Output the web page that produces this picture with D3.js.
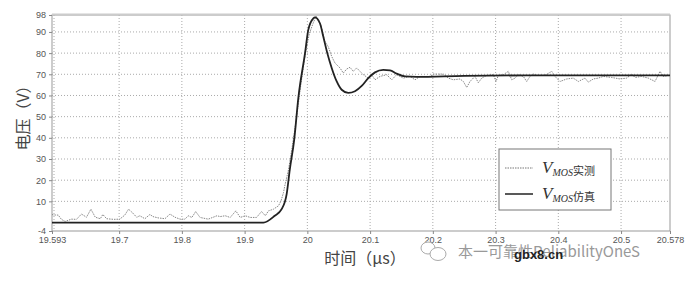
<!DOCTYPE html>
<html>
<head>
<meta charset="utf-8">
<script src="https://cdn.jsdelivr.net/npm/d3@7"></script>
<style>
  body { margin: 0; background: #fff; }
  .tick text { font: 9px "Liberation Sans", sans-serif; fill: #555; }
  .grid line { stroke: #aaa; stroke-dasharray: 1,2; }
</style>
</head>
<body>
<svg id="chart" width="692" height="281"></svg>
<script>
// simulated V_MOS (µs, V)
var simT = [19.593, 19.93, 19.948, 19.959, 19.967, 19.972, 19.979, 19.9856, 19.9963, 20.0015, 20.0095, 20.0122,
  20.0202, 20.0254, 20.0318, 20.0388, 20.0468, 20.0547, 20.0652, 20.0759, 20.0866, 20.0971, 20.1078, 20.121,
  20.1317, 20.1424, 20.1556, 20.1743, 20.25, 20.35, 20.578];
var simV = [0, 0, 3.2, 6.3, 13.4, 25, 39, 58.8, 80, 91, 96.4, 96.9,
  94, 87.8, 80, 73, 66.6, 62.7, 61.2, 62, 64.5, 68.2, 70.9, 72.1,
  71.9, 70.3, 69, 68.8, 69.3, 69.5, 69.5];

// measured V_MOS
var measT = [19.593, 19.595, 19.603, 19.608, 19.614, 19.624, 19.632, 19.640, 19.648, 19.655, 19.662, 19.670, 19.674,
  19.680, 19.691, 19.701, 19.709, 19.715, 19.720, 19.728, 19.733, 19.741, 19.749, 19.754, 19.762, 19.773, 19.781,
  19.789, 19.797, 19.805, 19.810, 19.816, 19.822, 19.829, 19.842, 19.856, 19.861, 19.869, 19.877, 19.886, 19.893,
  19.901, 19.909, 19.919, 19.927, 19.933, 19.938, 19.946, 19.954, 19.958, 19.962, 19.964, 19.970, 19.976, 19.983,
  19.990, 19.997, 20.003, 20.009, 20.014, 20.0217, 20.0281, 20.0334, 20.0388, 20.0441, 20.052, 20.0573, 20.0627,
  20.068, 20.0732, 20.0786, 20.0839, 20.0892, 20.0971, 20.1025, 20.1078, 20.1158, 20.1265, 20.1344, 20.1424,
  20.1529, 20.1636, 20.1716, 20.1795, 20.1955, 20.2008, 20.2167, 20.2247, 20.2326, 20.2433, 20.2486, 20.254,
  20.2592, 20.2672, 20.2725, 20.2779, 20.2858, 20.2964, 20.3007, 20.3044, 20.3123, 20.3203, 20.3257, 20.331,
  20.3362, 20.3442, 20.3496, 20.3549, 20.3601, 20.3655, 20.3788, 20.3895, 20.3947, 20.4027, 20.4134, 20.4239,
  20.4319, 20.4425, 20.4478, 20.4558, 20.4637, 20.4717, 20.4851, 20.4983, 20.509, 20.517, 20.5222, 20.5329,
  20.5434, 20.5541, 20.5621, 20.5673, 20.578];
var measV = [3.8, 3.6, 3.5, 1.5, 0.5, 1.6, 1.5, 4, 2.5, 6.3, 2.5, 1.8, 3.8,
  1.8, 1.5, 1.6, 3.5, 6.3, 5, 2.5, 3.2, 1.8, 3.8, 2.8, 2.2, 1.8, 4,
  2.5, 1.6, 1.6, 3.2, 2.4, 5.2, 2.4, 1.6, 3.2, 2.8, 3.2, 2.4, 5.5, 2.4,
  3.2, 2.4, 2.4, 5.2, 3.2, 5.5, 6.3, 7.9, 10.2, 14.2, 17.3, 25, 36, 50,
  66, 80, 89, 94, 97.5, 93, 85.5, 83, 78.4, 75.3, 73, 70.6, 72.5,
  73.3, 71.4, 73, 71.4, 69.8, 68.2, 69.8, 67.4, 69, 69.8, 67.4, 69.8,
  68.2, 69, 67.4, 69, 69, 70.1, 70.1, 68.2, 67.4, 67.8, 66.6, 63.8,
  66.6, 69, 66, 68.2, 69.5, 69.8, 66.6, 69.5, 69.8, 71.4, 67.4, 68.2,
  69.8, 69, 66.6, 69, 70.1, 69.5, 69.5, 71.4, 69, 66.6, 67.8, 68.2,
  66.6, 68.2, 66.3, 67.8, 68.2, 69, 68.5, 67.8, 68.2, 70.1, 68.5, 69,
  68.2, 66.6, 71.4, 69, 69.5];

var xTicks = [19.593, 19.7, 19.8, 19.9, 20, 20.1, 20.2, 20.3, 20.4, 20.5, 20.578];
var yTicks = [-4, 10, 20, 30, 40, 50, 60, 70, 80, 90, 98];

var svg = d3.select("#chart");
var x = d3.scaleLinear().domain([19.593, 20.578]).range([52, 670]);
var y = d3.scaleLinear().domain([-4, 98]).range([231, 15]);

// grid
svg.append("g").attr("class", "grid")
  .selectAll("line").data(xTicks.slice(1, -1)).enter().append("line")
  .attr("x1", function(d) { return x(d); }).attr("x2", function(d) { return x(d); })
  .attr("y1", 15).attr("y2", 231);
svg.append("g").attr("class", "grid")
  .selectAll("line").data(yTicks.slice(1, -1)).enter().append("line")
  .attr("y1", function(d) { return y(d); }).attr("y2", function(d) { return y(d); })
  .attr("x1", 52).attr("x2", 670);
svg.append("line").attr("x1", 54).attr("x2", 54).attr("y1", 15).attr("y2", 231)
  .attr("stroke", "#aaa").attr("stroke-dasharray", "1,2");

// frame
svg.append("rect").attr("x", 52).attr("y", 15).attr("width", 618).attr("height", 216)
  .attr("fill", "none").attr("stroke", "#999").attr("stroke-width", 1);
svg.append("line").attr("x1", 52).attr("x2", 670).attr("y1", 14.5).attr("y2", 14.5)
  .attr("stroke", "#ccc").attr("stroke-width", 2);

// axes
var xAxis = d3.axisBottom(x).tickValues(xTicks).tickSize(3).tickFormat(function(d) { return String(d); });
var yAxis = d3.axisLeft(y).tickValues(yTicks).tickSize(3).tickFormat(function(d) { return String(d); });
svg.append("g").attr("transform", "translate(0,231)").call(xAxis)
  .call(function(g) { g.select(".domain").remove(); g.selectAll("line").attr("stroke", "#888"); });
svg.append("g").attr("transform", "translate(52,0)").call(yAxis)
  .call(function(g) { g.select(".domain").remove(); g.selectAll("line").attr("stroke", "#888"); });

// lines
var meas = measT.map(function(t, i) { return [t, measV[i]]; });
var sim = simT.map(function(t, i) { return [t, simV[i]]; });
var line = d3.line().x(function(d) { return x(d[0]); }).y(function(d) { return y(d[1]); });

svg.append("path").datum(meas).attr("d", line)
  .attr("fill", "none").attr("stroke", "#888").attr("stroke-width", 1).attr("stroke-dasharray", "1.5,1");
svg.append("path").datum(sim).attr("d", line.curve(d3.curveMonotoneX))
  .attr("fill", "none").attr("stroke", "#222").attr("stroke-width", 1.8);

// axis titles
svg.append("text").attr("transform", "translate(22,114) rotate(-90)")
  .attr("text-anchor", "middle").attr("dominant-baseline", "central")
  .style("font", "16px 'Noto Sans CJK SC', sans-serif").attr("fill", "#444")
  .text("电压（V）");
svg.append("text").attr("x", 365).attr("y", 264).attr("text-anchor", "middle")
  .style("font", "16px 'Noto Sans CJK SC', sans-serif").attr("fill", "#444")
  .text("时间（μs）");

// legend
var lg = svg.append("g");
lg.append("rect").attr("x", 499).attr("y", 149).attr("width", 112).attr("height", 61)
  .attr("fill", "#fff").attr("stroke", "#777");
var rows = [{y: 168, dash: "1.5,1", col: "#777", w: 1, label: "实测"},
            {y: 194, dash: null, col: "#222", w: 1.5, label: "仿真"}];
rows.forEach(function(r) {
  lg.append("line").attr("x1", 505).attr("x2", 533).attr("y1", r.y).attr("y2", r.y)
    .attr("stroke", r.col).attr("stroke-width", r.w).attr("stroke-dasharray", r.dash);
  var t = lg.append("text").attr("x", 542).attr("y", r.y + 5).attr("fill", "#333");
  t.append("tspan").style("font", "italic 17px 'Liberation Serif', serif").text("V");
  t.append("tspan").attr("dy", 3).style("font", "italic 10px 'Liberation Serif', serif").text("MOS");
  t.append("tspan").attr("dy", -1).style("font", "11px 'Noto Sans CJK SC', sans-serif").text(r.label);
});

// watermark
svg.append("text").attr("x", 458).attr("y", 257)
  .style("font", "15px 'Noto Sans CJK SC', sans-serif").attr("fill", "#999")
  .text("本一可靠性ReliabilityOneS");
svg.append("text").attr("x", 514).attr("y", 259)
  .style("font", "bold 13px 'Liberation Sans', sans-serif").attr("fill", "#222")
  .text("gbx8.cn");
var wc = svg.append("g").attr("fill", "#fff").attr("stroke", "#aaa");
wc.append("ellipse").attr("cx", 428).attr("cy", 248).attr("rx", 7).attr("ry", 6);
wc.append("ellipse").attr("cx", 438).attr("cy", 254).attr("rx", 8).attr("ry", 6.5);
</script>
</body>
</html>
